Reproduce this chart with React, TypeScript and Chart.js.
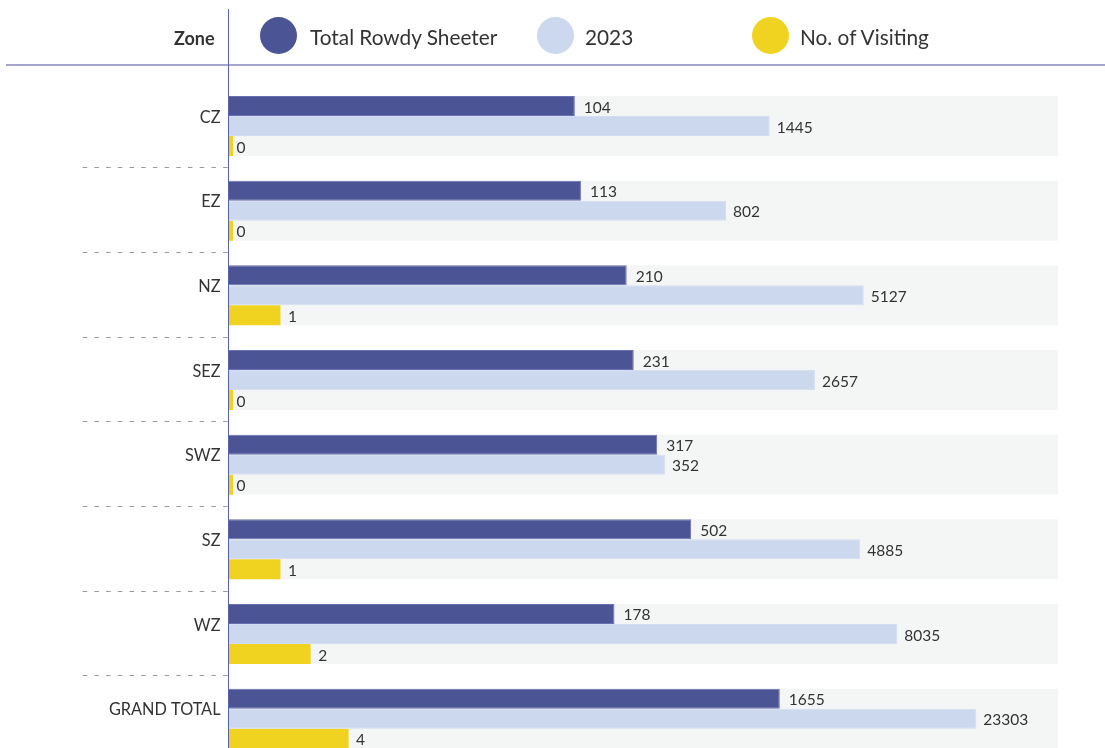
import React, { useEffect, useRef } from "react";
import { Chart, registerables } from "chart.js";

Chart.register(...registerables);

// ---- data ----
const zones = ["CZ", "EZ", "NZ", "SEZ", "SWZ", "SZ", "WZ", "GRAND TOTAL"];
const totalRowdySheeter = [104, 113, 210, 231, 317, 502, 178, 1655];
const year2023 = [1445, 802, 5127, 2657, 352, 4885, 8035, 23303];
const noOfVisiting = [0, 0, 1, 0, 0, 1, 2, 4];
const seriesNames = ["Total Rowdy Sheeter", "2023", "No. of Visiting"];
const axisTitle = "Zone";

// ---- styles ----
const seriesColors = ["#4b5494", "#cbd8ee", "#f0d320"];
const seriesBorders = ["#6a70b2", "#d5def1", "#f0d320"];
const labelGap = [9, 7, 7.5];
const FONT = "Lato, 'Open Sans', sans-serif";
const TEXT = "#333333";

const seriesValues = [totalRowdySheeter, year2023, noOfVisiting];

const bandPlugin = {
  id: "bands",
  beforeDatasetsDraw(chart: any) {
    const { ctx, chartArea, scales } = chart;
    const y = scales.y;
    const m0 = chart.getDatasetMeta(0);
    const m2 = chart.getDatasetMeta(seriesValues.length - 1);
    ctx.save();
    ctx.fillStyle = "#f4f6f5";
    zones.forEach((_, i) => {
      const b0 = m0.data[i] as any;
      const b2 = m2.data[i] as any;
      const top = b0.y - b0.height / 2;
      const bottom = b2.y + b2.height / 2;
      ctx.fillRect(chartArea.left, top, chartArea.right - chartArea.left, bottom - top);
    });
    ctx.setLineDash([4.5, 7.2]);
    ctx.strokeStyle = "#9a9a9a";
    ctx.lineWidth = 1;
    for (let i = 0; i < zones.length - 1; i++) {
      const yb = Math.round((y.getPixelForValue(i) + y.getPixelForValue(i + 1)) / 2) - 0.5;
      ctx.beginPath();
      ctx.moveTo(82.7, yb);
      ctx.lineTo(228, yb);
      ctx.stroke();
    }
    ctx.restore();
  },
};

const valueLabelPlugin = {
  id: "valueLabels",
  afterDatasetsDraw(chart: any) {
    const { ctx, scales } = chart;
    const x = scales.x;
    ctx.save();
    ctx.fillStyle = TEXT;
    ctx.font = `15.5px ${FONT}`;
    ctx.textAlign = "left";
    ctx.textBaseline = "alphabetic";
    seriesValues.forEach((vals, di) => {
      const meta = chart.getDatasetMeta(di);
      meta.data.forEach((bar: any, i: number) => {
        const xEnd = x.getPixelForValue(vals[i] + 1);
        ctx.fillText(String(vals[i]), xEnd + labelGap[di], bar.y + 6.5);
      });
    });
    ctx.restore();
  },
};

export default function App() {
  const canvasRef = useRef<HTMLCanvasElement | null>(null);

  useEffect(() => {
    const canvas = canvasRef.current;
    if (!canvas) return;
    const chart = new Chart(canvas, {
      type: "bar",
      data: {
        labels: zones,
        datasets: seriesValues.map((vals, di) => ({
          label: seriesNames[di],
          // log axis: each value is shifted by one so that zero sits at the axis base
          data: vals.map((v) => v + 1),
          backgroundColor: seriesColors[di],
          borderColor: seriesBorders[di],
          borderWidth: di === 2 ? 0 : 1,
          minBarLength: 4,
          categoryPercentage: 0.7087,
          barPercentage: 1,
        })),
      },
      options: {
        indexAxis: "y",
        animation: false,
        responsive: false,
        maintainAspectRatio: false,
        layout: { padding: { top: 83.67, bottom: 29, left: 0, right: 47 } },
        plugins: {
          legend: { display: false },
          tooltip: { enabled: false },
        },
        scales: {
          x: {
            type: "logarithmic",
            min: 1,
            max: 70000,
            display: false,
          },
          y: {
            type: "category",
            offset: true,
            grid: { display: false, drawTicks: false },
            border: { display: false },
            ticks: {
              color: TEXT,
              font: { family: FONT, size: 16.3 },
              padding: 8.5,
              labelOffset: -8.5,
              autoSkip: false,
            },
            afterFit: (s: any) => {
              s.width = 229;
            },
          },
        },
      },
      plugins: [bandPlugin, valueLabelPlugin],
    } as any);
    return () => chart.destroy();
  }, []);

  const legendX = [
    { c: 278, t: 310 },
    { c: 555.5, t: 585 },
    { c: 770, t: 800 },
  ];

  return (
    <div
      style={{
        position: "fixed",
        left: 0,
        top: 0,
        width: 1105,
        height: 748,
        overflow: "hidden",
        background: "#ffffff",
        fontFamily: FONT,
      }}
    >
      <canvas
        ref={canvasRef}
        width={1105}
        height={790}
        style={{ position: "absolute", left: 0, top: 0, width: 1105, height: 790 }}
      />
      {/* header */}
      <div
        style={{
          position: "absolute",
          left: 0,
          top: 27,
          width: 214.5,
          textAlign: "right",
          fontWeight: 700,
          fontSize: 18,
          lineHeight: "22px",
          color: TEXT,
        }}
      >
        {axisTitle}
      </div>
      {seriesNames.map((name, i) => (
        <React.Fragment key={name}>
          <div
            style={{
              position: "absolute",
              left: legendX[i].c - 18.5,
              top: 16.5,
              width: 37,
              height: 37,
              borderRadius: "50%",
              background: seriesColors[i],
            }}
          />
          <div
            style={{
              position: "absolute",
              left: legendX[i].t,
              top: 23.5,
              fontSize: 20.8,
              lineHeight: "25px",
              color: TEXT,
              whiteSpace: "nowrap",
            }}
          >
            {name}
          </div>
        </React.Fragment>
      ))}
      <div
        style={{
          position: "absolute",
          left: 6,
          top: 64,
          width: 1099,
          height: 2,
          background: "#a4a4cc",
        }}
      />
      <div
        style={{
          position: "absolute",
          left: 228,
          top: 9,
          width: 1,
          height: 760,
          background: "#5a5fae",
        }}
      />
    </div>
  );
}
